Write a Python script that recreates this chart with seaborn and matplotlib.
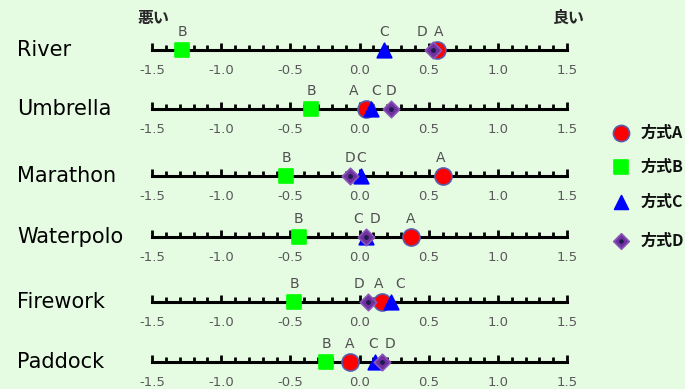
import numpy as np
import pandas as pd
import matplotlib
matplotlib.use("Agg")
import matplotlib.pyplot as plt
import seaborn as sns
from matplotlib.ticker import MultipleLocator

# data
topics = ['River', 'Umbrella', 'Marathon', 'Waterpolo', 'Firework', 'Paddock']
methods = ['A', 'B', 'C', 'D']
score_a = [0.56, 0.05, 0.60, 0.37, 0.16, -0.07]
score_b = [-1.28, -0.35, -0.53, -0.44, -0.47, -0.24]
score_c = [0.18, 0.08, 0.01, 0.05, 0.23, 0.11]
score_d = [0.53, 0.23, -0.07, 0.05, 0.06, 0.16]
legend_labels = ['方式A', '方式B', '方式C', '方式D']

rows = []
for m, vals in zip(methods, [score_a, score_b, score_c, score_d]):
    for t, v in zip(topics, vals):
        rows.append({'topic': t, 'method': m, 'score': v})
df = pd.DataFrame(rows)

# styles
bg = '#e5fce3'
marker_map = {'A': 'o', 'B': 's', 'C': '^', 'D': 'D'}
color_map = {'A': '#ff0000', 'B': '#00ff00', 'C': '#0000ff', 'D': '#7030a0'}
edge_map = {'A': '#5a5aa8', 'B': '#00ff00', 'C': '#0000ff', 'D': '#8a58b8'}
size_map = {'A': 150, 'B': 100, 'C': 110, 'D': 70}
# label nudges in points (to keep letters apart like the original)
label_nudge = {
    'River': {'A': 1, 'B': 0, 'C': 0, 'D': -8},
    'Umbrella': {'A': -9, 'B': 0, 'C': 4, 'D': 0},
    'Marathon': {'A': -1, 'B': 0, 'C': 0, 'D': 0},
    'Waterpolo': {'A': 0, 'B': 0, 'C': -6, 'D': 6},
    'Firework': {'A': -2, 'B': 0, 'C': 6, 'D': -6},
    'Paddock': {'A': 0, 'B': 0, 'C': -1, 'D': 6},
}

sns.set_style('white')
plt.rcParams['font.family'] = ['Noto Sans CJK JP', 'DejaVu Sans']

W, H = 685, 389
fig = plt.figure(figsize=(W / 100, H / 100), dpi=100)
fig.patch.set_facecolor(bg)

line_y = [50, 109, 176, 237, 302, 362]
x0, x1 = 152, 567
tick_col = '#595959'

for t, ly in zip(topics, line_y):
    ax = fig.add_axes([x0 / W, 1 - ly / H, (x1 - x0) / W, 30 / H])
    ax.set_facecolor('none')
    sub = df[df['topic'] == t]
    for m in methods:
        s = sub[sub['method'] == m]
        sns.scatterplot(data=s, x='score', y=np.zeros(len(s)), ax=ax,
                        marker=marker_map[m], s=size_map[m],
                        color=color_map[m], edgecolor=edge_map[m],
                        linewidth=1.2, zorder=5 + methods.index(m),
                        clip_on=False, legend=False)
        if m == 'D':
            ax.scatter(s['score'], np.zeros(len(s)), marker='o', s=6,
                       color='#1c1c50', zorder=10, clip_on=False)
        v = s['score'].iloc[0]
        ax.annotate(m, (v, 0), xytext=(label_nudge[t][m], 8),
                    textcoords='offset points', ha='center', va='bottom',
                    fontsize=10, color='#505050', family='DejaVu Sans')
    ax.set_xlim(-1.5, 1.5)
    ax.set_ylim(0, 1)
    for sp in ['top', 'left', 'right']:
        ax.spines[sp].set_visible(False)
    ax.spines['bottom'].set_linewidth(2.2)
    ax.spines['bottom'].set_color('black')
    ax.set_yticks([])
    ax.set_xlabel('')
    ax.set_ylabel('')
    ax.set_xticks(np.arange(-1.5, 1.51, 0.5))
    ax.set_xticklabels([f'{x:.1f}' for x in np.arange(-1.5, 1.51, 0.5)],
                       family='DejaVu Sans')
    ax.xaxis.set_minor_locator(MultipleLocator(0.1))
    ax.tick_params(axis='x', which='both', bottom=True)
    ax.tick_params(axis='x', which='major', direction='in', length=5, width=2,
                   color='black', labelsize=9.5, labelcolor=tick_col, pad=10)
    ax.tick_params(axis='x', which='minor', direction='in', length=3.5, width=2,
                   color='black')
    fig.text(17 / W, 1 - ly / H, t, fontsize=15, color='black',
             ha='left', va='center', family='DejaVu Sans')

# top labels
fig.text(138 / W, 1 - 18 / H, '悪い', fontsize=11.5, fontweight='bold',
         ha='left', va='center')
fig.text(553 / W, 1 - 18 / H, '良い', fontsize=11.5, fontweight='bold',
         ha='left', va='center')

# legend
leg_y = [133, 167, 202, 241]
lax = fig.add_axes([0, 0, 1, 1])
lax.set_xlim(0, W)
lax.set_ylim(H, 0)
lax.axis('off')
for m, lab, yy in zip(methods, legend_labels, leg_y):
    lax.scatter([621], [yy], marker=marker_map[m], s=size_map[m] * 0.9,
                color=color_map[m], edgecolor=edge_map[m], linewidth=1.2,
                clip_on=False, zorder=5)
    if m == 'D':
        lax.scatter([621], [yy], marker='o', s=5, color='#1c1c50', zorder=6)
    lax.text(641, yy, lab, fontsize=11.5, fontweight='bold', ha='left',
             va='center', color='#111111')

fig.savefig('out.png', dpi=100, facecolor=bg)
